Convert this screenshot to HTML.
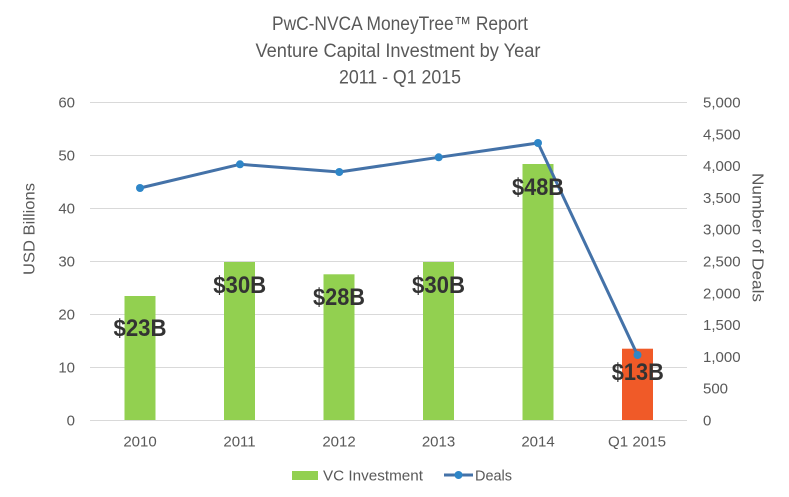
<!DOCTYPE html>
<html>
<head>
<meta charset="utf-8">
<style>
html,body{margin:0;padding:0;background:#fff;}
svg{display:block;}
text{font-family:"Liberation Sans",sans-serif;}
</style>
</head>
<body>
<svg width="789" height="497" viewBox="0 0 789 497" xmlns="http://www.w3.org/2000/svg">
<rect width="789" height="497" fill="#fff"/>
<!-- Title -->
<g fill="#595959" font-size="19" text-anchor="middle">
<text x="400" y="30" textLength="256" lengthAdjust="spacingAndGlyphs">PwC-NVCA MoneyTree™ Report</text>
<text x="398" y="57" textLength="285" lengthAdjust="spacingAndGlyphs">Venture Capital Investment by Year</text>
<text x="400" y="83.5" textLength="122" lengthAdjust="spacingAndGlyphs">2011 - Q1 2015</text>
</g>
<!-- Gridlines -->
<g stroke="#d9d9d9" stroke-width="1">
<line x1="90" x2="687" y1="102.5" y2="102.5"/>
<line x1="90" x2="687" y1="155.5" y2="155.5"/>
<line x1="90" x2="687" y1="208.5" y2="208.5"/>
<line x1="90" x2="687" y1="261.5" y2="261.5"/>
<line x1="90" x2="687" y1="314.5" y2="314.5"/>
<line x1="90" x2="687" y1="367.5" y2="367.5"/>
<line x1="90" x2="687" y1="420.5" y2="420.5"/>
</g>
<!-- Left ticks -->
<g fill="#595959" font-size="15" text-anchor="end">
<text x="75" y="425.5">0</text>
<text x="75" y="372.5">10</text>
<text x="75" y="319.5">20</text>
<text x="75" y="266.5">30</text>
<text x="75" y="213.5">40</text>
<text x="75" y="160.5">50</text>
<text x="75" y="107.5">60</text>
</g>
<!-- Right ticks -->
<g fill="#595959" font-size="15" text-anchor="start">
<text x="703" y="425.5">0</text>
<text x="703" y="393.7">500</text>
<text x="703" y="361.9">1,000</text>
<text x="703" y="330.1">1,500</text>
<text x="703" y="298.3">2,000</text>
<text x="703" y="266.5">2,500</text>
<text x="703" y="234.7">3,000</text>
<text x="703" y="202.9">3,500</text>
<text x="703" y="171.1">4,000</text>
<text x="703" y="139.3">4,500</text>
<text x="703" y="107.5">5,000</text>
</g>
<!-- Axis titles -->
<text fill="#595959" font-size="16" text-anchor="middle" dominant-baseline="central" transform="translate(30,229) rotate(-90)" textLength="92" lengthAdjust="spacingAndGlyphs">USD Billions</text>
<text fill="#595959" font-size="16" text-anchor="middle" dominant-baseline="central" transform="translate(757,237.5) rotate(90)" textLength="129" lengthAdjust="spacingAndGlyphs">Number of Deals</text>
<!-- Bars -->
<g>
<rect x="124.5" y="296" width="31" height="124" fill="#92d050"/>
<rect x="224" y="262" width="31" height="158" fill="#92d050"/>
<rect x="323.5" y="274.3" width="31" height="145.7" fill="#92d050"/>
<rect x="423" y="262" width="31" height="158" fill="#92d050"/>
<rect x="522.5" y="164" width="31" height="256" fill="#92d050"/>
<rect x="622" y="348.7" width="31" height="71.3" fill="#f05a28"/>
</g>
<!-- Deals line -->
<polyline points="140,188 240,164.3 339.3,172 438.7,157.3 538,143 637.5,355" fill="none" stroke="#4472a8" stroke-width="3" stroke-linejoin="round"/>
<g fill="#2e86c8">
<circle cx="140" cy="188" r="4"/>
<circle cx="240" cy="164.3" r="4"/>
<circle cx="339.3" cy="172" r="4"/>
<circle cx="438.7" cy="157.3" r="4"/>
<circle cx="538" cy="143" r="4"/>
<circle cx="637.5" cy="355" r="4"/>
</g>
<!-- Data labels -->
<g fill="#333" font-size="24" font-weight="bold" text-anchor="middle">
<text x="140" y="336" textLength="53" lengthAdjust="spacingAndGlyphs">$23B</text>
<text x="239.7" y="293" textLength="53" lengthAdjust="spacingAndGlyphs">$30B</text>
<text x="339" y="305" textLength="52" lengthAdjust="spacingAndGlyphs">$28B</text>
<text x="438.5" y="293" textLength="53" lengthAdjust="spacingAndGlyphs">$30B</text>
<text x="538" y="195" textLength="52" lengthAdjust="spacingAndGlyphs">$48B</text>
<text x="637.8" y="380" textLength="52" lengthAdjust="spacingAndGlyphs">$13B</text>
</g>
<!-- Category labels -->
<g fill="#595959" font-size="15" text-anchor="middle">
<text x="140" y="446.5">2010</text>
<text x="239.5" y="446.5">2011</text>
<text x="339" y="446.5">2012</text>
<text x="438.5" y="446.5">2013</text>
<text x="538" y="446.5">2014</text>
<text x="637" y="446.5" textLength="58" lengthAdjust="spacingAndGlyphs">Q1 2015</text>
</g>
<!-- Legend -->
<rect x="292" y="471" width="26" height="9" fill="#92d050"/>
<text x="323" y="480.5" fill="#595959" font-size="15" textLength="100" lengthAdjust="spacingAndGlyphs">VC Investment</text>
<line x1="444" x2="473" y1="475" y2="475" stroke="#4472a8" stroke-width="3"/>
<circle cx="458.5" cy="475" r="4" fill="#2e86c8"/>
<text x="475" y="480.5" fill="#595959" font-size="15" textLength="37" lengthAdjust="spacingAndGlyphs">Deals</text>
</svg>
</body>
</html>
